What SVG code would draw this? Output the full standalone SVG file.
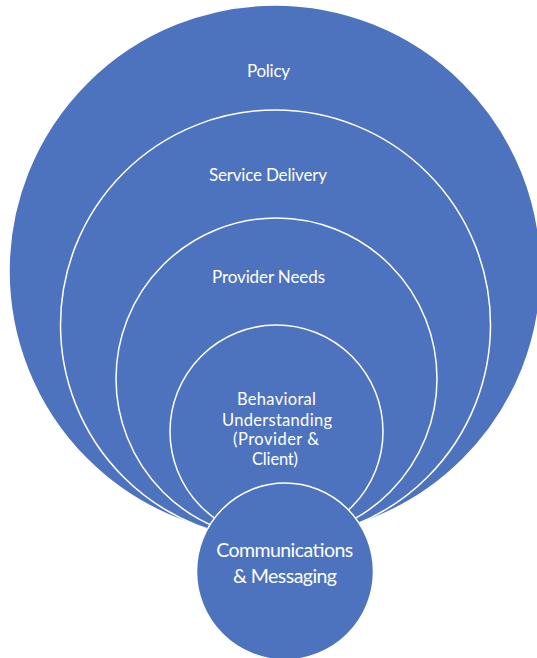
<svg xmlns="http://www.w3.org/2000/svg" width="537" height="658" viewBox="0 0 537 658">
  <style>
    .ring { fill: #4E73BE; stroke: #FFFFFF; stroke-width: 1.5; }
    .label { fill: #FFFFFF; font-family: Lato, "Open Sans", "Liberation Sans", sans-serif; font-size: 17px; text-anchor: middle; }
    .small { font-size: 16.5px; }
    .big { font-size: 19.5px; }
  </style>
  <rect x="0" y="0" width="537" height="658" fill="#FFFFFF"/>

  <g id="policy">
    <circle class="ring" cx="275" cy="271" r="266"/>
    <text class="label" x="268.5" y="77" textLength="43">Policy</text>
  </g>

  <g id="service-delivery">
    <circle class="ring" cx="275.5" cy="325" r="215"/>
    <text class="label" x="268" y="181" textLength="118">Service Delivery</text>
  </g>

  <g id="provider-needs">
    <circle class="ring" cx="276.5" cy="378.5" r="160.5"/>
    <text class="label" x="268.5" y="283" textLength="113">Provider Needs</text>
  </g>

  <g id="behavioral-understanding">
    <circle class="ring" cx="276.5" cy="431.5" r="106.5"/>
    <text class="label small" x="276.5" y="405" textLength="79">Behavioral</text>
    <text class="label small" x="277" y="425.5" textLength="110">Understanding</text>
    <text class="label small" x="276" y="445" textLength="86">(Provider &amp;</text>
    <text class="label small" x="275" y="465" textLength="46">Client)</text>
  </g>

  <g id="communications-messaging">
    <circle class="ring" cx="285" cy="571.5" r="88.5"/>
    <text class="label big" x="284.7" y="557" textLength="137">Communications</text>
    <text class="label big" x="285" y="583" textLength="104">&amp; Messaging</text>
  </g>

  <g id="connectors"/>
</svg>
